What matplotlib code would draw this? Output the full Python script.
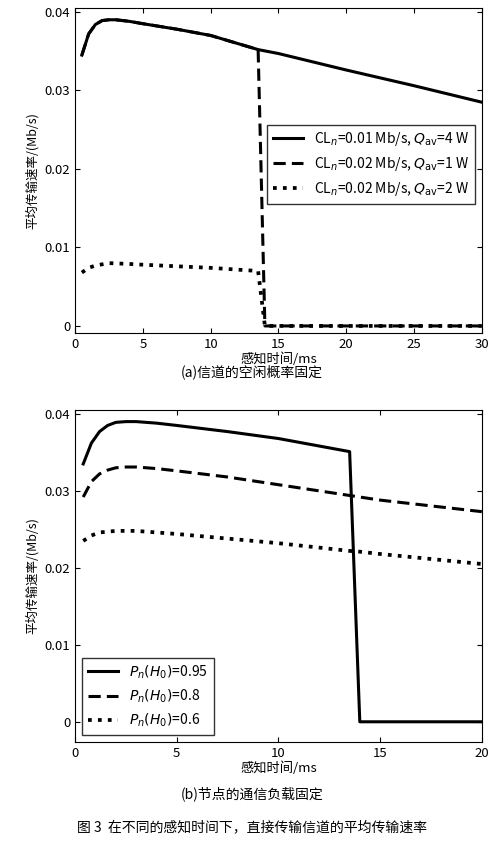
import matplotlib
matplotlib.use("Agg")
import matplotlib.pyplot as plt

plt.rcParams['font.family'] = ['Noto Sans CJK SC', 'DejaVu Sans']

# Panel (a)
a_x_solid = [0.5, 1.0, 1.5, 2.0, 2.5, 3.0, 4.0, 5.0, 7.5, 10, 13.5, 15, 20, 25, 30]
a_y_solid = [0.0345, 0.0372, 0.0384, 0.0389, 0.0390, 0.0390, 0.0388, 0.0385, 0.0378, 0.0370, 0.0352, 0.0347, 0.0326, 0.0306, 0.0285]
a_x_dash = [0.5, 1.0, 1.5, 2.0, 2.5, 3.0, 4.0, 5.0, 7.5, 10, 13.5, 14.0, 20, 25, 30]
a_y_dash = [0.0345, 0.0372, 0.0384, 0.0389, 0.0390, 0.0390, 0.0388, 0.0385, 0.0378, 0.0370, 0.0352, 0.0, 0.0, 0.0, 0.0]
a_x_dot = [0.5, 1.0, 1.5, 2.5, 4.0, 5.0, 7.5, 10, 13.5, 14.0, 20, 30]
a_y_dot = [0.0068, 0.0074, 0.0077, 0.0080, 0.0079, 0.0078, 0.0076, 0.0074, 0.0070, 0.0, 0.0, 0.0]
a_labels = [r'CL$_n$=0.01 Mb/s, $Q_{\rm av}$=4 W',
            r'CL$_n$=0.02 Mb/s, $Q_{\rm av}$=1 W',
            r'CL$_n$=0.02 Mb/s, $Q_{\rm av}$=2 W']

# Panel (b)
b_x = [0.4, 0.8, 1.2, 1.6, 2.0, 2.5, 3.0, 4.0, 5.0, 7.5, 10, 13.5, 14.0, 15, 20]
b_y_solid = [0.0335, 0.0362, 0.0377, 0.0385, 0.0389, 0.0390, 0.0390, 0.0388, 0.0385, 0.0377, 0.0368, 0.0351, 0.0, 0.0, 0.0]
b_y_dash = [0.0292, 0.0312, 0.0322, 0.0327, 0.0330, 0.0331, 0.0331, 0.0329, 0.0326, 0.0318, 0.0308, 0.0294, 0.0292, 0.0288, 0.0273]
b_y_dot = [0.0235, 0.0242, 0.0246, 0.0247, 0.0248, 0.0248, 0.0248, 0.0246, 0.0244, 0.0238, 0.0232, 0.0222, 0.0221, 0.0218, 0.0205]
b_labels = [r'$P_n(H_0)$=0.95', r'$P_n(H_0)$=0.8', r'$P_n(H_0)$=0.6']

yt = [0, 0.01, 0.02, 0.03, 0.04]
ytl = ['0', '0.01', '0.02', '0.03', '0.04']

fig = plt.figure(figsize=(5.04, 8.42), dpi=100)
ax1 = fig.add_axes([0.149, 0.6045, 0.807, 0.386])
ax2 = fig.add_axes([0.149, 0.119, 0.807, 0.394])

lw = 2.2
ax1.plot(a_x_solid, a_y_solid, 'k-', lw=lw, label=a_labels[0])
ax1.plot(a_x_dash, a_y_dash, 'k--', lw=lw, dashes=(4, 2), label=a_labels[1])
ax1.plot(a_x_dot, a_y_dot, 'k:', lw=lw+0.5, label=a_labels[2])
ax1.set_xlim(0, 30)
ax1.set_ylim(-0.0009, 0.0405)
ax1.set_xticks([0, 5, 10, 15, 20, 25, 30])
ax1.legend(loc='center right', bbox_to_anchor=(1.0, 0.52), fontsize=10, frameon=True,
           fancybox=False, edgecolor='k', handlelength=2.2)

ax2.plot(b_x, b_y_solid, 'k-', lw=lw, label=b_labels[0])
ax2.plot(b_x, b_y_dash, 'k--', lw=lw, dashes=(4, 2), label=b_labels[1])
ax2.plot(b_x, b_y_dot, 'k:', lw=lw+0.5, label=b_labels[2])
ax2.set_xlim(0, 20)
ax2.set_ylim(-0.0026, 0.0405)
ax2.set_xticks([0, 5, 10, 15, 20])
ax2.legend(loc='lower left', fontsize=10, frameon=True, fancybox=False, edgecolor='k',
           handlelength=2.2)

for ax in (ax1, ax2):
    ax.set_yticks(yt)
    ax.set_yticklabels(ytl)
    ax.tick_params(direction='in', labelsize=9.5, top=True, right=True)
    ax.set_ylabel('平均传输速率/(Mb/s)', fontsize=9)
    ax.set_xlabel('感知时间/ms', fontsize=9.5, labelpad=1)

fig.text(0.5, 0.553, '(a)信道的空闲概率固定', ha='center', fontsize=10)
fig.text(0.5, 0.052, '(b)节点的通信负载固定', ha='center', fontsize=10)
fig.text(0.5, 0.013, '图 3  在不同的感知时间下，直接传输信道的平均传输速率', ha='center', fontsize=10)

fig.savefig('out.png', dpi=100)
